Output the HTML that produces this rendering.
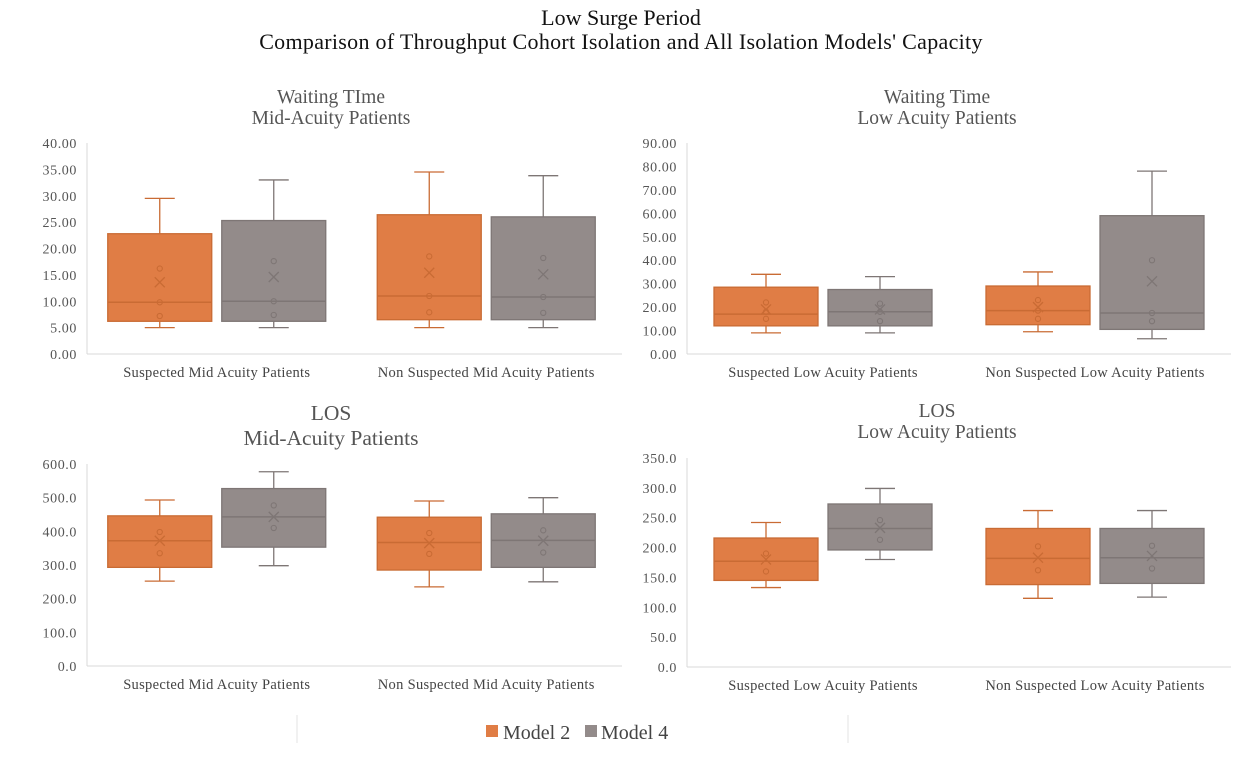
<!DOCTYPE html>
<html><head><meta charset="utf-8"><style>
body{margin:0;background:#fff;}
svg{display:block;font-family:"Liberation Serif",serif;}
</style></head><body>
<svg id="chart" width="1243" height="757">
<text x="621" y="25" text-anchor="middle" font-size="22" fill="#111">Low Surge Period</text>
<text x="621" y="49" text-anchor="middle" font-size="22" letter-spacing="0.3" fill="#111">Comparison of Throughput Cohort Isolation and All Isolation Models' Capacity</text>
<g id="panels"></g>
<line x1="297" y1="715" x2="297" y2="743" stroke="#e3e3e3"/>
<line x1="848" y1="715" x2="848" y2="743" stroke="#e3e3e3"/>
<g>
<rect x="486" y="725" width="12" height="12" fill="#E07D45"/>
<text x="503" y="739" font-size="20" fill="#444">Model 2</text>
<rect x="585" y="725" width="12" height="12" fill="#938B8A"/>
<text x="601" y="739" font-size="20" fill="#444">Model 4</text>
</g>
</svg>
<script>
// Categories
const catsMid = ["Suspected Mid Acuity Patients","Non Suspected Mid Acuity Patients"];
const catsLow = ["Suspected Low Acuity Patients","Non Suspected Low Acuity Patients"];
const seriesNames = ["Model 2","Model 4"];
// [min, q1, median, q3, max, mean, point1, point2, point3] per category per series
const wtMidM2 = [[5,6.2,9.8,22.8,29.5,13.6,16.2,9.8,7.2],[5,6.5,11,26.4,34.5,15.4,18.5,11,7.9]];
const wtMidM4 = [[5,6.2,10,25.3,33,14.6,17.6,10,7.4],[5,6.5,10.8,26,33.8,15.1,18.2,10.8,7.8]];
const wtLowM2 = [[9,12,17,28.5,34,19,22,18,15],[9.5,12.5,18.5,29,35,20,23,18.5,15]];
const wtLowM4 = [[9,12,18,27.5,33,19,21.5,18,14],[6.5,10.5,17.5,59,78,31,40,17.5,14]];
const losMidM2 = [[252,293,372,446,493,372,398,335],[235,285,367,442,490,365,395,333]];
const losMidM4 = [[298,353,443,527,577,443,477,410],[250,293,373,452,500,372,403,337]];
const losLowM2 = [[133,145,177,216,242,180,190,160],[115,138,182,232,262,183,202,162]];
const losLowM4 = [[180,196,232,273,299,233,246,213],[117,140,183,232,262,186,203,165]];
// Ticks
const ticksWtMid = [0,5,10,15,20,25,30,35,40];
const ticksWtLow = [0,10,20,30,40,50,60,70,80,90];
const ticksLosMid = [0,100,200,300,400,500,600];
const ticksLosLow = [0,50,100,150,200,250,300,350];

const NS="http://www.w3.org/2000/svg";
const root=document.getElementById('panels');
const fills=["#E07D45","#938B8A"], strokes=["#C96B34","#7E7675"];
function mk(tag,attrs,parent){const e=document.createElementNS(NS,tag);for(const k in attrs)e.setAttribute(k,attrs[k]);parent.appendChild(e);return e;}

function panel(cfg){
  const g=mk('g',{},root);
  
  
  cfg.titles.forEach((t,i)=>{const e=mk('text',{x:cfg.tx,y:cfg.ty+i*cfg.tls,'text-anchor':'middle','font-size':cfg.tfs,fill:'#555'},g);e.textContent=t;
    
    });
  const tmax=cfg.ticks[cfg.ticks.length-1];
  const y=v=>cfg.yb-(v/tmax)*(cfg.yb-cfg.yt);
  mk('line',{x1:cfg.x0,y1:cfg.yt,x2:cfg.x0,y2:cfg.yb,stroke:'#d9d9d9'},g);
  mk('line',{x1:cfg.x0,y1:cfg.yb,x2:cfg.x1,y2:cfg.yb,stroke:'#d9d9d9'},g);
  cfg.ticks.forEach(t=>{const e=mk('text',{x:cfg.x0-10,y:y(t)+5,'text-anchor':'end','font-size':14,'letter-spacing':0.6,fill:'#555'},g);e.textContent=t.toFixed(cfg.dec);
    
    });
  const band=(cfg.x1-cfg.x0)/cfg.cats.length;
  const bw=104,gap=10;
  cfg.cats.forEach((c,ci)=>{
    const cx=cfg.x0+band*(ci+0.5)+(cfg.cdx?cfg.cdx[ci]:0);
    const lab=mk('text',{x:cx,y:cfg.yb+23,'text-anchor':'middle','font-size':14.5,'letter-spacing':0.3,fill:'#444'},g);lab.textContent=c;
    
    
    [cfg.s1,cfg.s2].forEach((s,si)=>{
      const d=s[ci];
      const bx=cx-bw-gap/2+si*(bw+gap), mx=bx+bw/2, st=strokes[si];
      const bg=mk('g',{},g);
      
      
      mk('line',{x1:mx,y1:y(d[4]),x2:mx,y2:y(d[3]),stroke:st,'stroke-width':1.3},bg);
      mk('line',{x1:mx,y1:y(d[0]),x2:mx,y2:y(d[1]),stroke:st,'stroke-width':1.3},bg);
      mk('line',{x1:mx-15,y1:y(d[4]),x2:mx+15,y2:y(d[4]),stroke:st,'stroke-width':1.3},bg);
      mk('line',{x1:mx-15,y1:y(d[0]),x2:mx+15,y2:y(d[0]),stroke:st,'stroke-width':1.3},bg);
      mk('rect',{x:bx,y:y(d[3]),width:bw,height:y(d[1])-y(d[3]),fill:fills[si],stroke:st,'stroke-width':1.3},bg);
      mk('line',{x1:bx,y1:y(d[2]),x2:bx+bw,y2:y(d[2]),stroke:st,'stroke-width':1.5},bg);
      const my=y(d[5]);
      mk('path',{d:`M${mx-5} ${my-5}L${mx+5} ${my+5}M${mx+5} ${my-5}L${mx-5} ${my+5}`,stroke:st,'stroke-width':1.3},bg);
      d.slice(6).forEach(p=>mk('circle',{cx:mx,cy:y(p),r:2.6,fill:'none',stroke:st,'stroke-width':1.1},bg));
    });
  });
}
panel({name:'waiting-time-mid-acuity-panel',titles:['Waiting TIme','Mid-Acuity Patients'],tx:331,ty:103,tls:21,tfs:19.5,x0:87,x1:622,yt:143,yb:354,ticks:ticksWtMid,dec:2,cats:catsMid,s1:wtMidM2,s2:wtMidM4,cdx:[-4,-2]});
panel({name:'waiting-time-low-acuity-panel',titles:['Waiting Time','Low Acuity Patients'],tx:937,ty:103,tls:21,tfs:19.5,x0:687,x1:1231,yt:143,yb:354,ticks:ticksWtLow,dec:2,cats:catsLow,s1:wtLowM2,s2:wtLowM4});
panel({name:'los-mid-acuity-panel',titles:['LOS','Mid-Acuity Patients'],tx:331,ty:420,tls:25,tfs:21.5,x0:87,x1:622,yt:464,yb:666,ticks:ticksLosMid,dec:1,cats:catsMid,s1:losMidM2,s2:losMidM4,cdx:[-4,-2]});
panel({name:'los-low-acuity-panel',titles:['LOS','Low Acuity Patients'],tx:937,ty:417,tls:21,tfs:19.5,x0:687,x1:1231,yt:458,yb:667,ticks:ticksLosLow,dec:1,cats:catsLow,s1:losLowM2,s2:losLowM4});
</script>
</body></html>
